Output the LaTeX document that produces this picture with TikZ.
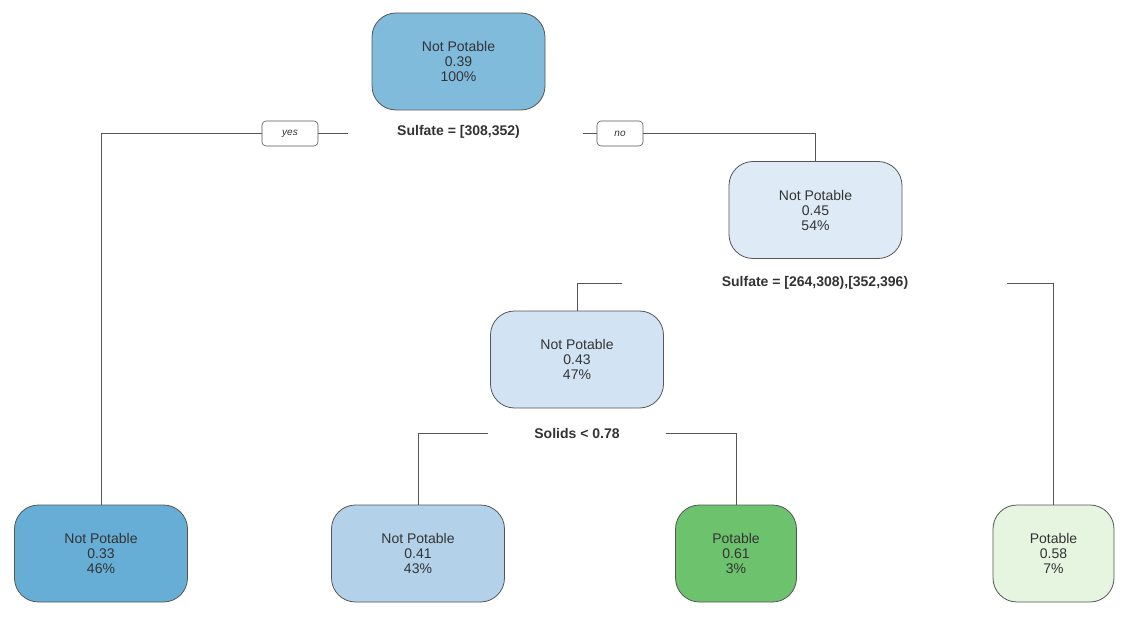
\documentclass[tikz,border=0pt]{standalone}
\usepackage{fontspec}
\setmainfont{Liberation Sans}
\usetikzlibrary{positioning}

\definecolor{edgegray}{HTML}{555555}
\definecolor{txtgray}{HTML}{333333}
\definecolor{blueA}{HTML}{80BBDC}
\definecolor{blueB}{HTML}{DEEBF7}
\definecolor{blueC}{HTML}{D2E3F3}
\definecolor{blueD}{HTML}{67AED6}
\definecolor{blueE}{HTML}{B3D2E9}
\definecolor{greenA}{HTML}{6DC26E}
\definecolor{greenB}{HTML}{E5F5E0}

\begin{document}
\begin{tikzpicture}[x=1pt, y=-1pt,
    leaf/.style={rectangle, rounded corners=24pt, draw=edgegray, line width=0.8pt,
      minimum height=97pt, inner sep=0pt, align=center, text=txtgray,
      font=\fontsize{14}{15}\selectfont},
    wide/.style={leaf, minimum width=173pt},
    narrow/.style={leaf, minimum width=121pt},
    split/.style={font=\fontsize{14}{15}\selectfont\bfseries, text=txtgray, inner sep=0pt},
    tag/.style={rectangle, rounded corners=4pt, draw=edgegray, line width=0.6pt,
      minimum height=25pt, inner sep=0pt, text=txtgray, font=\fontsize{10}{12}\selectfont\itshape},
    link/.style={draw=edgegray, line width=0.8pt}]
  \useasboundingbox (0,0) rectangle (1133,623);

  % nodes of the tree
  \node[wide, fill=blueA] (n1) at (458.5,61.5) {Not Potable\\0.39\\100\%};
  \node[wide, fill=blueB] (n2) at (815.5,210) {Not Potable\\0.45\\54\%};
  \node[wide, fill=blueC] (n3) at (577,359.5) {Not Potable\\0.43\\47\%};
  \node[wide, fill=blueD] (l1) at (101,553.5) {Not Potable\\0.33\\46\%};
  \node[wide, fill=blueE] (l2) at (418,553.5) {Not Potable\\0.41\\43\%};
  \node[narrow, fill=greenA] (l3) at (736,553.5) {Potable\\0.61\\3\%};
  \node[narrow, fill=greenB] (l4) at (1053.5,553.5) {Potable\\0.58\\7\%};

  % split labels
  \node[split] (s1) at (458.5,132) {Sulfate = [308,352)};
  \node[split] (s2) at (815,282.5) {Sulfate = [264,308),[352,396)};
  \node[split] (s3) at (577,433) {Solids < 0.78};

  \node[tag, minimum width=56pt] (yes) at (290,133.5) {yes};
  \node[tag, minimum width=46pt] (no) at (620,133.5) {no};

  \coordinate (c1) at (348,133.5);
  \coordinate (c2) at (583,133.5);
  \coordinate (c3) at (622,283.5);
  \coordinate (c4) at (1007,283.5);
  \coordinate (c5) at (488,433.5);
  \coordinate (c6) at (666,433.5);

  % branches
  \draw[link] (l1.north) |- (yes.west);
  \draw[link] (yes.east) -- (c1);
  \draw[link] (c2) -- (no.west);
  \draw[link] (no.east) -| (n2.north);
  \draw[link] (c3) -| (n3.north);
  \draw[link] (c4) -| (l4.north);
  \draw[link] (c5) -| (l2.north);
  \draw[link] (c6) -| (l3.north);
\end{tikzpicture}
\end{document}
